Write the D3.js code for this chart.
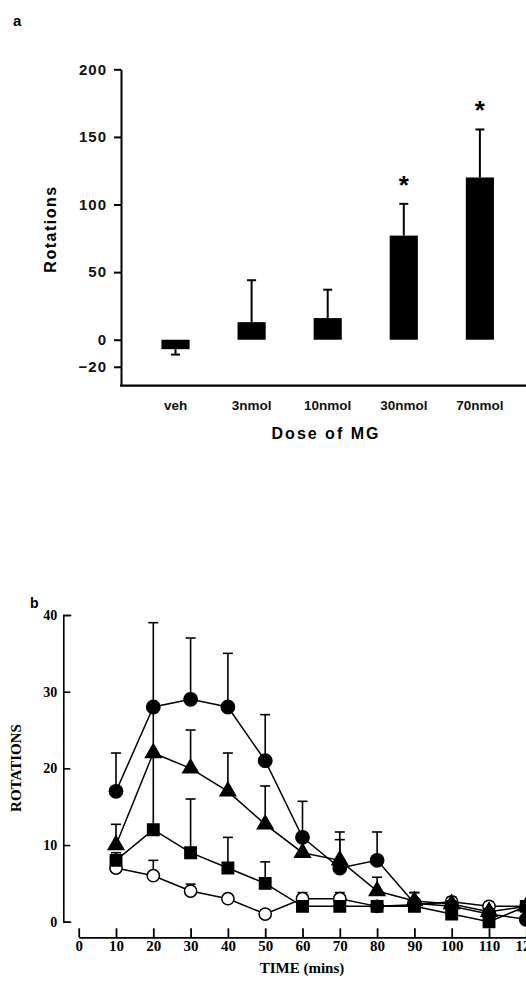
<!DOCTYPE html>
<html>
<head>
<meta charset="utf-8">
<script src="https://cdn.jsdelivr.net/npm/d3@7"></script>
<style>
  body { margin: 0; background: #fff; }
  svg { display: block; }
</style>
</head>
<body>
<div id="chart"></div>
<script>
// panel a: rotations by dose
var doses = ["veh", "3nmol", "10nmol", "30nmol", "70nmol"];
var doseMeans = [-7, 13, 16, 77, 120];
var doseSem = [4, 31, 21, 23.5, 35.5];
var doseSig = [false, false, false, true, true];
var doseTicks = [-20, 0, 50, 100, 150, 200];

// panel b: rotations over time
var times = [10, 20, 30, 40, 50, 60, 70, 80, 90, 100, 110, 120];
var filledCircle = [17, 28, 29, 28, 21, 11, 7, 8, 2.4, 2, 1, 0.3];
var filledCircleSem = [5, 11, 8, 7, 6, 4.7, 4.7, 3.7, 1.4, 0.5, 0.5, 0];
var triangle = [10, 22, 20, 17, 12.7, 9, 8, 4, 2.7, 2.3, 1.3, 2];
var triangleSem = [2.7, 0, 5, 5, 5, 0, 2.7, 1.8, 1.1, 0.4, 0.4, 0];
var square = [8, 12, 9, 7, 5, 2, 2, 2, 2, 1, 0, 2];
var squareSem = [1, 16, 7, 4, 2.8, 0.3, 0.3, 0.3, 0.3, 0.3, 0.3, 0];
var openCircle = [7, 6, 4, 3, 1, 3, 3, 2, 2.2, 2.6, 2, 2];
var openCircleSem = [0.5, 2, 0.9, 0.3, 0.3, 0.8, 0.8, 0.3, 0.5, 0.6, 0.6, 0];
var timeTicks = [0, 10, 20, 30, 40, 50, 60, 70, 80, 90, 100, 110, 120];
var rotTicks = [0, 10, 20, 30, 40];

var W = 526, H = 984;
var svg = d3.select("#chart").append("svg")
  .attr("width", W).attr("height", H);
svg.append("rect").attr("width", W).attr("height", H).attr("fill", "#fff");

var sans = "'Liberation Sans', Arial, sans-serif";
var serif = "'Liberation Serif', 'Times New Roman', serif";

// ---------- panel a ----------
var ax0 = 121;
var ya = d3.scaleLinear().domain([-34, 200]).range([385.7, 69.3]);
var xa = d3.scaleBand().domain(doses).range([123.4, 532])
  .paddingInner(0.63).paddingOuter(0.5);

svg.append("text").attr("x", 13).attr("y", 26).text("a")
  .style("font-family", sans).style("font-weight", "bold").style("font-size", "15px");

var yAxisA = svg.append("g")
  .attr("transform", "translate(" + ax0 + ",0)")
  .call(d3.axisLeft(ya).tickValues(doseTicks).tickSize(7).tickSizeOuter(0).tickPadding(7)
    .tickFormat(function (d) { return d < 0 ? "\u2212" + (-d) : d; }));
yAxisA.selectAll("path, line").attr("stroke", "#000").attr("stroke-width", 2);
yAxisA.selectAll("text")
  .style("font-family", sans).style("font-weight", "bold")
  .style("font-size", "15px").style("letter-spacing", "1px").attr("fill", "#111");

svg.append("line")
  .attr("x1", ax0 - 1).attr("x2", W)
  .attr("y1", ya(-34)).attr("y2", ya(-34))
  .attr("stroke", "#000").attr("stroke-width", 2.2);

var xAxisA = svg.append("g")
  .attr("transform", "translate(0," + ya(-34) + ")")
  .call(d3.axisBottom(xa).tickSize(0).tickPadding(15));
xAxisA.select(".domain").remove();
xAxisA.selectAll("text")
  .style("font-family", sans).style("font-weight", "bold")
  .style("font-size", "13.5px").attr("fill", "#111");

// error bars (drawn in direction of the mean)
var bars = svg.append("g");
doses.forEach(function (d, i) {
  var cx = xa(d) + xa.bandwidth() / 2;
  var m = doseMeans[i];
  var end = m >= 0 ? m + doseSem[i] : m - doseSem[i];
  bars.append("line")
    .attr("x1", cx).attr("x2", cx)
    .attr("y1", ya(m)).attr("y2", ya(end))
    .attr("stroke", "#000").attr("stroke-width", 2);
  bars.append("line")
    .attr("x1", cx - 4.5).attr("x2", cx + 4.5)
    .attr("y1", ya(end)).attr("y2", ya(end))
    .attr("stroke", "#000").attr("stroke-width", 2);
  bars.append("rect")
    .attr("x", xa(d)).attr("width", xa.bandwidth())
    .attr("y", ya(Math.max(0, m)))
    .attr("height", Math.abs(ya(m) - ya(0)))
    .attr("fill", "#000");
  if (doseSig[i]) {
    bars.append("text")
      .attr("x", cx).attr("y", ya(end) - 10)
      .attr("text-anchor", "middle")
      .text("*")
      .style("font-family", sans).style("font-weight", "bold").style("font-size", "26px");
  }
});

svg.append("text")
  .attr("transform", "translate(56,229) rotate(-90)")
  .attr("text-anchor", "middle")
  .text("Rotations")
  .style("font-family", sans).style("font-weight", "bold")
  .style("font-size", "16px").style("letter-spacing", "1.5px");

svg.append("text")
  .attr("x", 326).attr("y", 439)
  .attr("text-anchor", "middle")
  .text("Dose of MG")
  .style("font-family", sans).style("font-weight", "bold")
  .style("font-size", "16px").style("letter-spacing", "2px");

// ---------- panel b ----------
var xb = d3.scaleLinear().domain([0, 120]).range([78.7, 526.3]);
var yb = d3.scaleLinear().domain([0, 40]).range([921.7, 615]);
var bx0 = 63.3, by0 = 937.3;

svg.append("text").attr("x", 30).attr("y", 608).text("b")
  .style("font-family", sans).style("font-weight", "bold").style("font-size", "14px");

var yAxisB = svg.append("g")
  .attr("transform", "translate(" + bx0 + ",0)")
  .call(d3.axisLeft(yb).tickValues(rotTicks).tickSizeInner(-7).tickSizeOuter(-8).tickPadding(6));
yAxisB.selectAll("path, line").attr("stroke", "#000").attr("stroke-width", 1.6);
yAxisB.selectAll("text")
  .style("font-family", serif).style("font-weight", "bold")
  .style("font-size", "14px").attr("fill", "#000");

var xAxisB = svg.append("g")
  .attr("transform", "translate(0," + by0 + ")")
  .call(d3.axisBottom(xb).tickValues(timeTicks).tickSizeInner(-9).tickSizeOuter(0).tickPadding(3));
xAxisB.selectAll("path, line").attr("stroke", "#000").attr("stroke-width", 1.8);
xAxisB.selectAll("text")
  .style("font-family", serif).style("font-weight", "bold")
  .style("font-size", "15px").attr("fill", "#000");

svg.append("text")
  .attr("transform", "translate(21,768) rotate(-90)")
  .attr("text-anchor", "middle")
  .text("ROTATIONS")
  .style("font-family", serif).style("font-weight", "bold").style("font-size", "15px");

svg.append("text")
  .attr("x", 302).attr("y", 973)
  .attr("text-anchor", "middle")
  .text("TIME (mins)")
  .style("font-family", serif).style("font-weight", "bold").style("font-size", "15px");

var series = [
  { vals: openCircle, sem: openCircleSem, shape: d3.symbolCircle, size: 118, fill: "#fff" },
  { vals: square, sem: squareSem, shape: d3.symbolSquare, size: 130, fill: "#000" },
  { vals: triangle, sem: triangleSem, shape: d3.symbolTriangle, size: 105, fill: "#000" },
  { vals: filledCircle, sem: filledCircleSem, shape: d3.symbolCircle, size: 140, fill: "#000" }
];

var line = d3.line()
  .x(function (d) { return xb(d[0]); })
  .y(function (d) { return yb(d[1]); });

var plot = svg.append("g");
series.forEach(function (s) {
  var g = plot.append("g");
  var pts = times.map(function (t, i) { return [t, s.vals[i], s.sem[i]]; });
  pts.forEach(function (p) {
    if (p[2] <= 0) return;
    g.append("line")
      .attr("x1", xb(p[0])).attr("x2", xb(p[0]))
      .attr("y1", yb(p[1])).attr("y2", yb(p[1] + p[2]))
      .attr("stroke", "#000").attr("stroke-width", 1.6);
    g.append("line")
      .attr("x1", xb(p[0]) - 5).attr("x2", xb(p[0]) + 5)
      .attr("y1", yb(p[1] + p[2])).attr("y2", yb(p[1] + p[2]))
      .attr("stroke", "#000").attr("stroke-width", 1.6);
  });
  g.append("path")
    .datum(pts)
    .attr("d", line)
    .attr("fill", "none")
    .attr("stroke", "#000")
    .attr("stroke-width", 1.5);
  g.selectAll("path.mark")
    .data(pts)
    .enter()
    .append("path")
    .attr("class", "mark")
    .attr("transform", function (d) { return "translate(" + xb(d[0]) + "," + yb(d[1]) + ")"; })
    .attr("d", d3.symbol().type(s.shape).size(s.size))
    .attr("fill", s.fill)
    .attr("stroke", "#000")
    .attr("stroke-width", 1.5);
});
</script>
</body>
</html>
